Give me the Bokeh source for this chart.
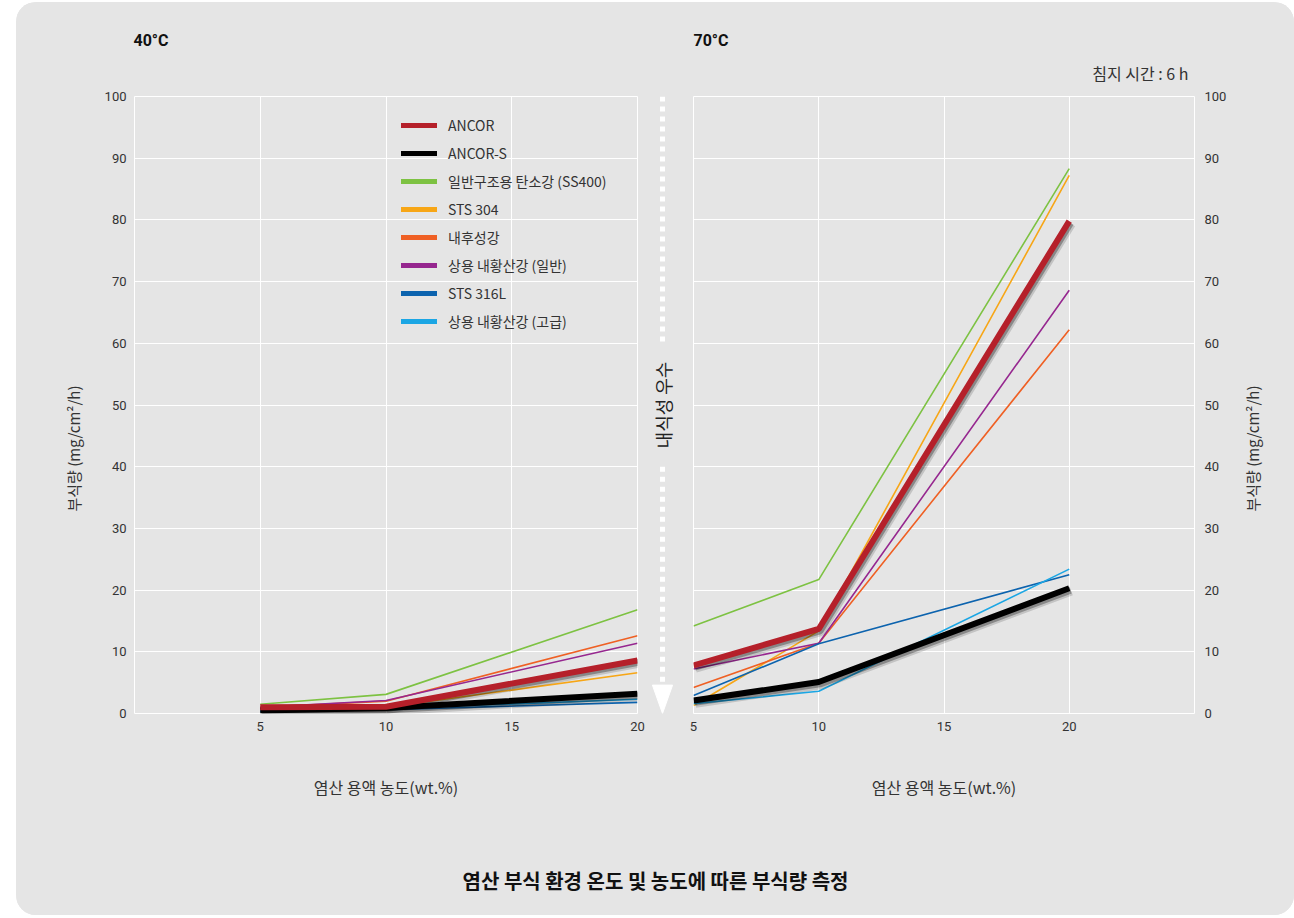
import math

from bokeh.embed import file_html
from bokeh.layouts import column, row
from bokeh.models import (ColumnDataSource, FixedTicker, Label, Legend,
                          LegendItem, Range1d)
from bokeh.plotting import figure
from bokeh.resources import INLINE
from bokeh.transform import dodge

# ---- data: corrosion loss (mg/cm2/h) vs. HCl concentration (wt.%) ----
concentration = [5, 10, 20]

series_names = [
    "ANCOR",
    "ANCOR-S",
    "일반구조용 탄소강 (SS400)",
    "STS 304",
    "내후성강",
    "상용 내황산강 (일반)",
    "STS 316L",
    "상용 내황산강 (고급)",
]
series_colors = ["#b5202a", "#000000", "#7dc242", "#f7a616", "#ef6024",
                 "#96278f", "#0c63ae", "#1ba6e4"]

# 40 °C
ancor_40 = [1.0, 1.1, 8.6]
ancor_s_40 = [0.5, 0.9, 3.2]
ss400_40 = [1.5, 3.1, 16.8]
sts304_40 = [0.9, 1.0, 6.6]
weathering_40 = [1.0, 2.0, 12.6]
acid_std_40 = [1.0, 2.1, 11.4]
sts316l_40 = [0.3, 0.6, 1.8]
acid_premium_40 = [0.4, 0.8, 2.3]

# 70 °C
ancor_70 = [7.8, 13.7, 79.8]
ancor_s_70 = [2.1, 5.1, 20.3]
ss400_70 = [14.2, 21.7, 88.3]
sts304_70 = [1.3, 13.4, 87.2]
weathering_70 = [4.2, 11.4, 62.2]
acid_std_70 = [7.2, 11.4, 68.6]
sts316l_70 = [2.9, 11.3, 22.5]
acid_premium_70 = [1.6, 3.6, 23.4]

y_ticks = [0, 10, 20, 30, 40, 50, 60, 70, 80, 90, 100]
x_ticks = [5, 10, 15, 20]
Y_MIN, Y_MAX = 0, 100

BG = "#e5e5e5"
INK = "#333333"
KR_FONT = "Noto Sans CJK KR"
NUM_FONT = "Roboto"

FRAME_H = 617
TOP = 10
BOTTOM = 97
ROW_H = TOP + FRAME_H + BOTTOM
TOTAL_W = 1278


def style_axes(p):
    for ax in p.xaxis:
        ax.ticker = FixedTicker(ticks=x_ticks)
    for ax in p.yaxis:
        ax.ticker = FixedTicker(ticks=y_ticks)
    for ax in p.axis:
        ax.axis_line_color = None
        ax.major_tick_line_color = None
        ax.minor_tick_line_color = None
        ax.major_tick_in = 0
        ax.major_tick_out = 0
        ax.minor_tick_in = 0
        ax.minor_tick_out = 0
        ax.major_label_text_font = NUM_FONT
        ax.major_label_text_font_size = "13px"
        ax.major_label_text_color = INK
    p.yaxis.major_label_standoff = 8
    p.xaxis.major_label_standoff = 8
    p.xaxis.axis_label_text_font = KR_FONT
    p.xaxis.axis_label_text_font_size = "16px"
    p.xaxis.axis_label_text_font_style = "normal"
    p.xaxis.axis_label_text_color = INK
    p.xaxis.axis_label_standoff = 41
    p.xgrid.ticker = FixedTicker(ticks=x_ticks)
    p.ygrid.ticker = FixedTicker(ticks=y_ticks)
    p.grid.grid_line_color = "white"
    p.grid.grid_line_width = 1


def draw_series(p, values):
    for i in range(2, len(series_names)):
        p.line(concentration, values[i], line_color=series_colors[i],
               line_width=1.6)
    # the two ANCOR grades are drawn heavy, with a soft drop shadow
    for i in (1, 0):
        src = ColumnDataSource(dict(x=concentration, y=values[i]))
        p.line(x=dodge("x", 0.08), y=dodge("y", -0.45), source=src,
               line_color="black", line_alpha=0.15, line_width=9)
        p.line(x=dodge("x", 0.05), y=dodge("y", -0.3), source=src,
               line_color="black", line_alpha=0.3, line_width=7)
        p.line(x="x", y="y", source=src, line_color=series_colors[i],
               line_width=6)


def panel(frame_w, x_range, border_left, border_right, y_side):
    p = figure(frame_width=frame_w, frame_height=FRAME_H,
               min_border_left=border_left, min_border_right=border_right,
               min_border_top=TOP, min_border_bottom=BOTTOM,
               x_range=x_range, y_range=Range1d(Y_MIN, Y_MAX),
               y_axis_location=y_side,
               output_backend="svg", toolbar_location=None,
               background_fill_color=BG, border_fill_color=BG,
               outline_line_color="white")
    p.xaxis.axis_label = "염산 용액 농도(wt.%)"
    style_axes(p)
    return p


def strip(w, h, x_range=None, y_range=None, top=0, bottom=0):
    p = figure(frame_width=w, frame_height=h, min_border=0,
               min_border_top=top, min_border_bottom=bottom,
               x_range=x_range or Range1d(0, 1),
               y_range=y_range or Range1d(0, 1),
               output_backend="svg", toolbar_location=None,
               background_fill_color=BG, border_fill_color=BG,
               outline_line_color=None)
    p.axis.visible = False
    p.grid.visible = False
    return p


def put_text(p, text, x, y, size, align="center", bold=False, angle=0.0,
             font=KR_FONT, color=INK):
    p.add_layout(Label(x=x, y=y, x_units="screen", y_units="screen",
                       text=text, angle=angle, text_align=align,
                       text_baseline="middle", text_font=font,
                       text_font_style="bold" if bold else "normal",
                       text_font_size=size, text_color=color))


# ---- header: temperatures and immersion time ----
header = strip(TOTAL_W, 84)
put_text(header, "40°C", 117, 46, "16px", align="left", bold=True,
         font=NUM_FONT, color="#111111")
put_text(header, "70°C", 677, 46, "16px", align="left", bold=True,
         font=NUM_FONT, color="#111111")
put_text(header, "침지 시간 : 6 h", 1172, 14, "16px", align="right")

# ---- y-axis titles on both sides ----
ylab_left = strip(84, ROW_H)
put_text(ylab_left, "부식량 (mg/cm²/h)", 57, 372, "15px", angle=math.pi / 2)
ylab_right = strip(64, ROW_H)
put_text(ylab_right, "부식량 (mg/cm²/h)", 22, 372, "15px", angle=math.pi / 2)

# ---- 40 °C panel ----
left = panel(503, Range1d(0, 20), 34, 13, "left")
values_40 = [ancor_40, ancor_s_40, ss400_40, sts304_40, weathering_40,
             acid_std_40, sts316l_40, acid_premium_40]
draw_series(left, values_40)

# legend keys: hidden heavy copies so every key shows a thick stroke
proxies = [left.line(concentration, vals, line_color=c, line_width=5,
                     line_cap="round", visible=False)
           for c, vals in zip(series_colors, values_40)]
legend = Legend(items=[LegendItem(label=n, renderers=[r])
                       for n, r in zip(series_names, proxies)],
                location=(267, 381), orientation="vertical",
                glyph_width=36, glyph_height=22, label_height=22,
                label_standoff=11, spacing=6, padding=0, margin=0,
                label_text_font=KR_FONT, label_text_font_size="14px",
                label_text_color=INK, background_fill_alpha=0,
                border_line_alpha=0, inactive_fill_alpha=0)
left.add_layout(legend)

# ---- centre strip: "better corrosion resistance" arrow ----
mid = strip(24, FRAME_H, y_range=Range1d(Y_MIN, Y_MAX), top=TOP,
            bottom=BOTTOM)
y_mid = (Y_MIN + Y_MAX) / 2
gap = 10
head = 4.6
mid.segment(x0=[0.5, 0.5], y0=[Y_MAX, y_mid - gap],
            x1=[0.5, 0.5], y1=[y_mid + gap, Y_MIN + head],
            line_color="white", line_width=5, line_dash="5 5")
mid.patch(x=[0.08, 0.92, 0.5], y=[Y_MIN + head, Y_MIN + head, Y_MIN],
          fill_color="white", line_color="white")
mid.add_layout(Label(x=0.5, y=y_mid, text="내식성 우수", angle=math.pi / 2,
                     text_align="center", text_baseline="middle",
                     text_font=KR_FONT, text_font_size="18px",
                     text_color="#222222"))

# ---- 70 °C panel ----
right = panel(501, Range1d(5, 25), 19, 36, "right")
right.yaxis.major_label_standoff = 10
draw_series(right, [ancor_70, ancor_s_70, ss400_70, sts304_70, weathering_70,
                    acid_std_70, sts316l_70, acid_premium_70])

# ---- caption strip ----
caption = strip(TOTAL_W, 105)
put_text(caption, "염산 부식 환경 온도 및 농도에 따른 부식량 측정",
         TOTAL_W / 2, 35, "20px", bold=True, color="#111111")

page = column(header, row(ylab_left, left, mid, right, ylab_right), caption,
              margin=(2, 0, 0, 16),
              styles={"border-radius": "20px", "overflow": "hidden",
                      "background-color": BG})

open("out.html", "w").write(file_html(page, INLINE))
